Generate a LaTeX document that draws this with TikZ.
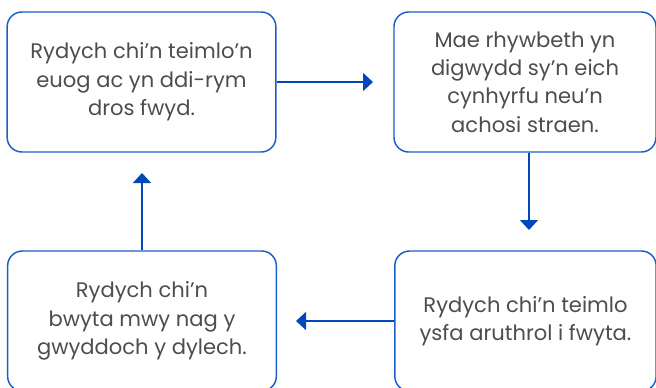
\documentclass[tikz,border=0pt]{standalone}
\usepackage{fontspec}
\setmainfont{Poppins}
\usepackage{xcolor}
\usepackage{tikz}
\usetikzlibrary{positioning}
\usetikzlibrary{arrows.meta}
\definecolor{boxblue}{HTML}{1A5FC8}
\definecolor{arrowblue}{HTML}{0047BB}
\definecolor{textgrey}{HTML}{4D4D4D}

\begin{document}
\begin{tikzpicture}
  [ x=0.75pt, y=-0.75pt,
    box/.style={draw=boxblue, line width=1.1pt, rounded corners=11pt,
    minimum width=201.5pt, minimum height=105pt, inner sep=0pt,
    align=center, text=textgrey, font=\fontsize{15.8}{21.3}\selectfont},
    ld/.style={draw=arrowblue, line width=1.1pt,
    -{Triangle[width=13.5pt,length=7.5pt]}}
  ]
  \useasboundingbox (0,0) rectangle (656,387);

  \node (b01) at (141.5, 82) [box] {Rydych chi’n teimlo’n\\euog ac yn ddi-rym\\dros fwyd.};
  \node (b02) at (525.0, 82) [box, minimum width=196.5pt] {Mae rhywbeth yn\\digwydd sy’n eich\\cynhyrfu neu’n\\achosi straen.};
  \node (b03) at (525.5,321) [box, minimum width=196pt] {Rydych chi’n teimlo\\ysfa aruthrol i fwyta.};
  \node (b04) at (142.0,321) [box] {Rydych chi’n\\bwyta mwy nag y\\gwyddoch y dylech.};

  \coordinate (t01) at (373, 82);
  \coordinate (t02) at (529,230);
  \coordinate (t03) at (296,321);
  \coordinate (t04) at (142,173);

  \draw [ld] (b01.east) -- (t01);
  \draw [ld] (b02.south -| t02) -- (t02);
  \draw [ld] (b03.west) -- (t03);
  \draw [ld] (b04.north) -- (t04);
\end{tikzpicture}
\end{document}
